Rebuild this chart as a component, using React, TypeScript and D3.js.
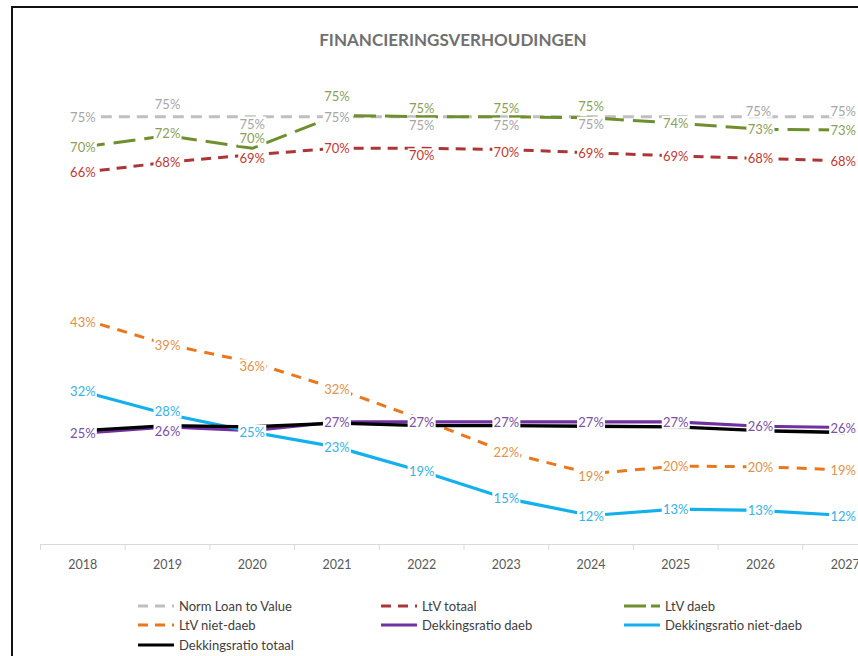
import React from 'react';
import * as d3 from 'd3';

// ---------- data ----------
const years = ['2018', '2019', '2020', '2021', '2022', '2023', '2024', '2025', '2026', '2027'];
const normLoanToValue = [75, 75, 75, 75, 75, 75, 75, 75, 75, 75];
const ltvTotaal = [66.2, 67.8, 69.0, 70.0, 70.0, 69.8, 69.3, 68.8, 68.4, 68.0];
const ltvDaeb = [70.2, 72.0, 70.0, 75.2, 75.0, 75.0, 74.8, 74.0, 73.0, 72.9];
const ltvNietDaeb = [43.0, 39.0, 36.2, 32.0, 27.2, 22.0, 18.6, 19.8, 19.7, 19.2];
const dekkingsratioDaeb = [25.0, 26.0, 25.4, 26.8, 26.8, 26.8, 26.8, 26.8, 26.1, 25.9];
const dekkingsratioNietDaeb = [31.6, 28.0, 25.2, 22.8, 19.0, 14.7, 12.0, 13.0, 12.8, 12.0];
const dekkingsratioTotaal = [25.4, 26.2, 26.0, 26.6, 26.2, 26.2, 26.1, 26.0, 25.4, 25.1];

// ---------- styling / layout ----------
type Off = [number, number] | null;
const offNorm: Off[] = [[0, 0], [0, -13], [0, 7], [0, 0], [0, 8], [0, 8], [0, 7], null, [-2, -6], [-2, -6]];
const offTotaal: Off[] = [[0, 0], [0, 0], [0, 3], [0, 0], [0, 7], [0, 2], [0, 0], [0, 0], [0, 0], [-2, 0]];
const offDaeb: Off[] = [[0, 0], [0, -3], [0, -10], [0, -19], [0, -9], [0, -9], [0, -12], [0, 0], [0, 0], [-2, 0]];
const offNietDaeb: Off[] = [[0, 3], [0, 0], [0, 4], [0, 0], null, [0, 0], [0, 2], [0, 0], [0, 0], [-2, 0]];
const offDekDaeb: Off[] = [[0, 0], [0, 4], null, [0, 0], [0, 0], [0, 0], [0, 0], [0, 0], [0, 0], [-2, 0]];
const offDekNiet: Off[] = [[0, 0], [0, -3], [0, 0], [0, 0], [0, 0], [0, 0], [0, 0], [0, 0], [0, 0], [-2, 0]];

const SERIES = [
  { name: 'Norm Loan to Value', values: normLoanToValue, color: '#bfbfbf', label: '#a6a6a6', dash: '11,7', width: 3, offsets: offNorm },
  { name: 'LtV totaal', values: ltvTotaal, color: '#ac3535', label: '#c0392f', dash: '10,7', width: 3, offsets: offTotaal },
  { name: 'LtV daeb', values: ltvDaeb, color: '#6f8f2e', label: '#8a9f55', dash: '22,9', width: 3, offsets: offDaeb },
  { name: 'LtV niet-daeb', values: ltvNietDaeb, color: '#e8771e', label: '#e0924a', dash: '10,8', width: 3, offsets: offNietDaeb },
  { name: 'Dekkingsratio daeb', values: dekkingsratioDaeb, color: '#7030a0', label: '#7a4fa6', dash: null, width: 3.2, offsets: offDekDaeb },
  { name: 'Dekkingsratio niet-daeb', values: dekkingsratioNietDaeb, color: '#13b0ec', label: '#35b2e6', dash: null, width: 3.2, offsets: offDekNiet },
  { name: 'Dekkingsratio totaal', values: dekkingsratioTotaal, color: '#000000', label: '#000000', dash: null, width: 3.4, offsets: null as Off[] | null },
];

const LEGEND_ORDER = [0, 1, 2, 3, 4, 5, 6];
const LEGEND_COLS = [138, 381, 624];
const LEGEND_ROWS = [606, 625, 645];

const FONT = 'Lato, "Open Sans", sans-serif';

export default function App() {
  const x = d3.scaleBand<string>().domain(years).range([40.5, 887.5]);
  const y = d3.scaleLinear().domain([7.5, 80]).range([544, 85]);
  const cx = (yr: string) => (x(yr) as number) + x.bandwidth() / 2;
  const line = d3
    .line<number>()
    .x((_, i) => cx(years[i]))
    .y((v) => y(v));

  const boundaries = years.map((yr) => x(yr) as number).concat([(x(years[years.length - 1]) as number) + x.bandwidth()]);

  return (
    <div style={{ position: 'absolute', left: 0, top: 0, width: 858, height: 656, background: '#fff' }}>
      <svg width={858} height={656} style={{ display: 'block' }}>
        <rect x={0} y={0} width={858} height={656} fill="#fff" />
        {/* chart frame */}
        <rect x={12} y={7} width={900} height={700} fill="#fff" stroke="#111" strokeWidth={2} />

        {/* title */}
        <text x={453} y={39} textAnchor="middle" dominantBaseline="central" fontFamily={FONT} fontWeight={700} fontSize={17} fill="#707070">
          FINANCIERINGSVERHOUDINGEN
        </text>

        {/* x axis */}
        <line x1={40} x2={858} y1={544.5} y2={544.5} stroke="#d9d9d9" strokeWidth={1} />
        {boundaries.map((b, i) => (
          <line key={'t' + i} x1={b} x2={b} y1={544.5} y2={550} stroke="#d9d9d9" strokeWidth={1} />
        ))}
        {years.map((yr) => (
          <text key={yr} x={cx(yr)} y={564} textAnchor="middle" dominantBaseline="central" fontFamily={FONT} fontSize={12.5} fill="#595959">
            {yr}
          </text>
        ))}

        {/* lines */}
        {SERIES.map((s) => (
          <path
            key={s.name}
            d={line(s.values) as string}
            fill="none"
            stroke={s.color}
            strokeWidth={s.width}
            strokeDasharray={s.dash ?? undefined}
            strokeLinejoin="round"
          />
        ))}

        {/* data labels */}
        {SERIES.map((s) =>
          s.offsets
            ? s.values.map((v, i) => {
                const o = s.offsets![i];
                if (!o) return null;
                const px = cx(years[i]) + o[0];
                const py = y(v) + o[1];
                return (
                  <g key={s.name + i}>
                    <rect x={px - 14} y={py - 7} width={28} height={14} fill="#fff" />
                    <text x={px} y={py} textAnchor="middle" dominantBaseline="central" fontFamily={FONT} fontSize={13} fill={s.label}>
                      {`${Math.round(v)}%`}
                    </text>
                  </g>
                );
              })
            : null
        )}

        {/* legend */}
        {LEGEND_ORDER.map((si, k) => {
          const s = SERIES[si];
          const lx = LEGEND_COLS[k % 3];
          const ly = LEGEND_ROWS[Math.floor(k / 3)];
          return (
            <g key={'lg' + k}>
              <line x1={lx} x2={lx + 36} y1={ly} y2={ly} stroke={s.color} strokeWidth={3} strokeDasharray={s.dash ? (si === 2 ? '22,5' : '10,7') : undefined} />
              <text x={lx + 41} y={ly} dominantBaseline="central" fontFamily={FONT} fontSize={13} fill="#404040">
                {s.name}
              </text>
            </g>
          );
        })}
      </svg>
    </div>
  );
}
